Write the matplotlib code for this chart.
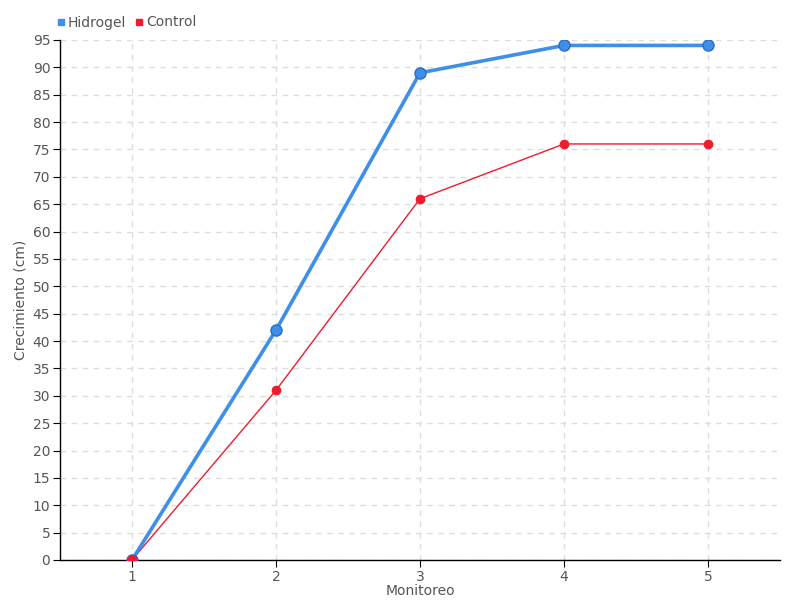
import matplotlib
matplotlib.use("Agg")
import matplotlib.pyplot as plt
from matplotlib.lines import Line2D

monitoreo = [1, 2, 3, 4, 5]
hidrogel = [0, 42, 89, 94, 94]
control = [0, 31, 66, 76, 76]
y_ticks = list(range(0, 100, 5))

text_color = "#555555"
blue = "#3d8fe8"
red = "#ee1c2e"

plt.rcParams["font.family"] = ["DejaVu Sans"]

fig = plt.figure(figsize=(8, 6), dpi=100)
ax = fig.add_axes([0.075, 0.0667, 0.9, 0.8667])

ax.plot(monitoreo, control, color=red, linewidth=1, marker="o", markersize=6,
        markerfacecolor=red, markeredgecolor=red, zorder=3)
ax.plot(monitoreo, hidrogel, color=blue, linewidth=2.6, marker="o", markersize=8,
        markerfacecolor=blue, markeredgecolor="#2a6fc4", zorder=4)
# the first control point sits over the hidrogel marker
ax.plot(monitoreo[0], control[0], "o", color=red, markersize=7, zorder=5)

ax.set_xlim(0.5, 5.5)
ax.set_ylim(0, 95)
ax.set_xticks(monitoreo)
ax.set_yticks(y_ticks)
ax.grid(True, color="#dddddd", linestyle=(0, (4, 4)), linewidth=1)
ax.set_axisbelow(True)

for side in ("top", "right"):
    ax.spines[side].set_visible(False)
for side in ("left", "bottom"):
    ax.spines[side].set_color("black")
    ax.spines[side].set_linewidth(1)

ax.tick_params(axis="both", colors="black", labelcolor=text_color,
               labelsize=10, length=5, direction="out", pad=2)
ax.set_xlabel("Monitoreo", color=text_color, fontsize=10, labelpad=0)
ax.set_ylabel("Crecimiento (cm)", color=text_color, fontsize=10, labelpad=4)

handles = [
    Line2D([], [], linestyle="none", marker="s", markersize=5, color=blue),
    Line2D([], [], linestyle="none", marker="s", markersize=5, color=red),
]
fig.legend(handles, ["Hidrogel", "Control"], loc="upper left",
           bbox_to_anchor=(0.052, 0.995), ncol=2, frameon=False,
           handletextpad=0.0, columnspacing=0.4, handlelength=1.0,
           labelcolor=text_color, fontsize=10)

fig.savefig("out.png", dpi=100)
